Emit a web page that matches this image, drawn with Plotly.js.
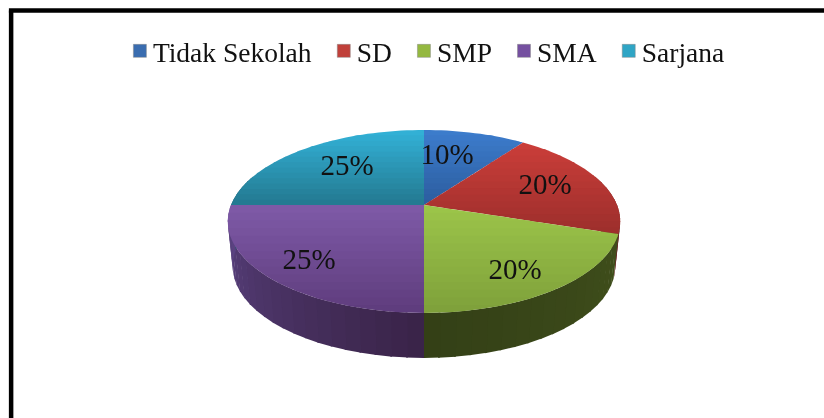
<!DOCTYPE html>
<html><head><meta charset="utf-8">
<script src="https://cdn.plot.ly/plotly-3.0.1.min.js"></script>
<style>html,body{margin:0;padding:0;background:#fff;overflow:hidden}#chart{width:824px;height:418px;filter:blur(0.6px)}</style>
</head><body><div id="chart"></div>
<script>
const categories = ["Tidak Sekolah", "SD", "SMP", "SMA", "Sarjana"];
const percentages = [10, 20, 20, 25, 25];
const swatchColors = ["#3a6db0", "#c0403a", "#94b840", "#7550a0", "#2fa5c5"];
const faceLight = ["#3d7dcd", "#cb3e3a", "#9cc54a", "#7f5aa8", "#33b2d8"];
const faceDark = ["#2b5c9e", "#9c2e2b", "#7ea03a", "#5e3c7c", "#23788f"];
const sideLight = ["#25406a", "#6a2220", "#3f4e1b", "#5c4484", "#1a5566"];
const sideDark = ["#25406a", "#5e1e1c", "#333f16", "#3a2449", "#1a5566"];
const labelCenters = [[447,157],[545,187],[515,272],[309,262],[347,168]];

// Projection of the tilted disc (pixel axes)
const cx = 424, cy = 205, A = 88.5, B = 193, k = 0.18, depth = 45, baseScale = 0.975;
const rad = d => d * Math.PI / 180;
function rimTop(phi){
  const u = Math.sin(rad(phi)), v = Math.cos(rad(phi)), d = 1 + k * v;
  return [cx + B * u / d, cy - A * v / d];
}
function rimBottom(phi){
  const p = rimTop(phi);
  return [cx + (p[0] - cx) * baseScale, p[1] + depth];
}
const hex = c => [1,3,5].map(i => parseInt(c.substr(i,2),16));
function mix(a,b,t){
  const x = hex(a), y = hex(b);
  return "rgb(" + x.map((v,i) => Math.round(v + (y[i]-v)*t)).join(",") + ")";
}
function clipBand(poly, y0, y1){
  function clip(pts, inside, cross){
    const out = [];
    pts.forEach((p,i) => {
      const q = pts[(i+1)%pts.length];
      const a = inside(p), b = inside(q);
      if (a) out.push(p);
      if (a !== b) out.push(cross(p,q));
    });
    return out;
  }
  const at = y => (p,q) => [p[0] + (q[0]-p[0])*(y-p[1])/(q[1]-p[1]), y];
  let r = clip(poly, p => p[1] >= y0, at(y0));
  if (r.length) r = clip(r, p => p[1] <= y1, at(y1));
  return r;
}
function fillTrace(pts, color, w){
  const c = pts.concat([pts[0]]);
  return {type:"scatter", mode:"lines", x:c.map(p=>p[0]), y:c.map(p=>p[1]), fill:"toself",
    fillcolor:color, line:{color:color, width:w, simplify:false}, showlegend:false, hoverinfo:"skip"};
}

const traces = [];
// legend entries
categories.forEach((name,i) => traces.push({type:"scatter", mode:"markers", name:name, x:[null], y:[null],
  marker:{symbol:"square", size:13, color:swatchColors[i], line:{color:"#8a8a8a", width:0.5}}, hoverinfo:"skip"}));

const total = percentages.reduce((a,b)=>a+b,0);
let bounds = [0];
percentages.forEach(p => bounds.push(bounds[bounds.length-1] + p/total*360));

// side wall
percentages.forEach((p,i) => {
  const a0 = Math.max(bounds[i], 70), a1 = Math.min(bounds[i+1], 290);
  if (a1 <= a0) return;
  for (let a = a0; a < a1; a += 4){
    const b = Math.min(a+4.5, a1);
    const t = (a - a0) / (a1 - a0);
    traces.push(fillTrace([rimTop(a), rimTop(b), rimBottom(b), rimBottom(a)], mix(sideLight[i], sideDark[i], a < 180 ? t : 1 - t), 0));
  }
});
// top faces with vertical shading
percentages.forEach((p,i) => {
  const poly = [[cx,cy]];
  for (let a = bounds[i]; a < bounds[i+1]; a += 2) poly.push(rimTop(a));
  poly.push(rimTop(bounds[i+1]));
  const ys = poly.map(q=>q[1]);
  const y0 = Math.min(...ys), y1 = Math.max(...ys);
  const n = 14;
  for (let b = 0; b < n; b++){
    const s0 = y0 + (y1-y0)*b/n, s1 = y0 + (y1-y0)*(b+1)/n + 1;
    const band = clipBand(poly, s0, Math.min(s1, y1));
    if (band.length > 2) traces.push(fillTrace(band, mix(faceLight[i], faceDark[i], (b+0.5)/n), 0));
  }
});
// percentage labels
traces.push({type:"scatter", mode:"text", x:labelCenters.map(c=>c[0]), y:labelCenters.map(c=>c[1]),
  text:percentages.map(p=>p+"%"), textposition:"middle center",
  textfont:{family:"Liberation Serif, Times New Roman, serif", size:29, color:"#111"},
  showlegend:false, hoverinfo:"skip"});

const layout = {
  width:824, height:418, margin:{l:0,r:0,t:0,b:0}, paper_bgcolor:"#fff", plot_bgcolor:"#fff",
  xaxis:{range:[0,824], visible:false, fixedrange:true},
  yaxis:{range:[418,0], visible:false, fixedrange:true},
  showlegend:true,
  legend:{orientation:"h", x:0.137, y:0.878, xanchor:"left", yanchor:"middle", bgcolor:"rgba(0,0,0,0)",
    font:{family:"Liberation Serif, Times New Roman, serif", size:27.5, color:"#111"}, itemclick:false, itemdoubleclick:false, traceorder:"normal"},
  shapes:[
    {type:"line", xref:"paper", yref:"paper", x0:0.0135, x1:0.0135, y0:0, y1:0.975, line:{color:"#000", width:4.5}},
    {type:"line", xref:"paper", yref:"paper", x0:0.0108, x1:1, y0:0.975, y1:0.975, line:{color:"#000", width:4.5}}
  ]
};
Plotly.newPlot("chart", traces, layout, {displayModeBar:false, staticPlot:true}).then(() => {
  document.querySelectorAll("#chart .legendsymbols").forEach(g => g.setAttribute("transform","translate(7,0)"));
});
</script></body></html>
